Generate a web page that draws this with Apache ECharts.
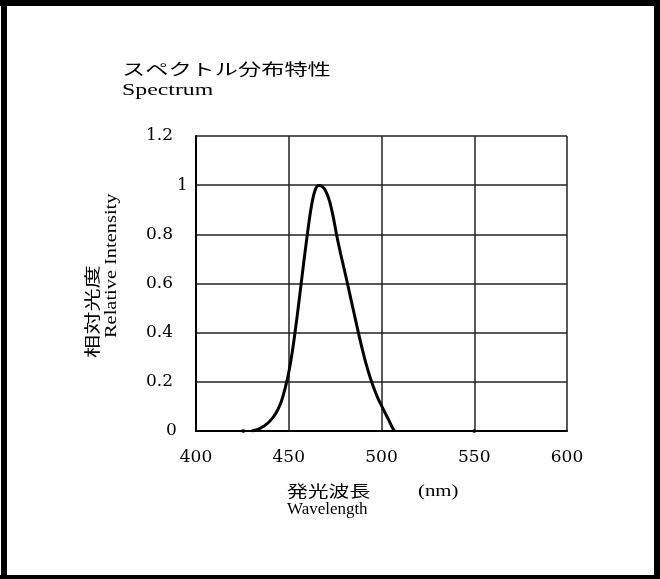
<!DOCTYPE html>
<html>
<head>
<meta charset="utf-8">
<script src="https://cdn.jsdelivr.net/npm/echarts@6/dist/echarts.min.js"></script>
<style>
html,body{margin:0;padding:0;background:#fff;}
#chart{width:660px;height:579px;}
</style>
</head>
<body>
<div id="chart"></div>
<script>
// ---- data ----
const wavelengths = [430, 432, 434, 436, 438, 440, 442, 444, 446, 448, 450, 452, 454, 456, 458, 460, 462, 464, 466, 468, 470, 472, 474, 476, 478, 480, 482, 484, 486, 488, 490, 492, 494, 496, 498, 500, 502, 504, 506, 507];
const intensities = [0, 0.003, 0.009, 0.017, 0.028, 0.042, 0.06, 0.085, 0.12, 0.172, 0.238, 0.326, 0.436, 0.557, 0.681, 0.799, 0.905, 0.975, 0.999, 0.995, 0.975, 0.935, 0.87, 0.79, 0.72, 0.655, 0.588, 0.52, 0.452, 0.385, 0.322, 0.265, 0.215, 0.172, 0.135, 0.103, 0.073, 0.043, 0.012, 0];
const dotWavelengths = [425.5, 550];
const dotValues = [0, 0];
const yTickLabels = ['0', '0.2', '0.4', '0.6', '0.8', '1', '1.2'];
const xTickLabels = ['400', '450', '500', '550', '600'];
const titleJa = 'スペクトル分布特性';
const titleEn = 'Spectrum';
const yNameJa = '相対光度';
const yNameEn = 'Relative Intensity';
const xNameJa = '発光波長';
const xUnit = '(nm)';
const xNameEn = 'Wavelength';

const chart = echarts.init(document.getElementById('chart'));
const serif = '"Liberation Serif", "Times New Roman", serif';
const labelFont = '"DejaVu Serif", serif';
const cjk = '"Noto Sans CJK JP", sans-serif';

const yIdx = {};
yTickLabels.forEach((t, i) => { yIdx[(i * 0.2).toFixed(1)] = t; });

const option = {
  backgroundColor: '#fff',
  animation: false,
  grid: { left: 196, top: 136, width: 371, height: 295, containLabel: false },
  xAxis: {
    type: 'value', min: 400, max: 600, interval: 50,
    axisLine: { show: true, lineStyle: { color: '#000', width: 2 } },
    axisTick: { show: false },
    splitLine: { show: true, lineStyle: { color: '#222', width: 1.5 } },
    axisLabel: {
      color: '#000', fontFamily: labelFont, fontSize: 17, margin: 18,
      formatter: v => { const i = Math.round((v - 400) / 50); return xTickLabels[i] || ''; }
    }
  },
  yAxis: {
    type: 'value', min: 0, max: 1.2, interval: 0.2,
    axisLine: { show: true, lineStyle: { color: '#000', width: 2 } },
    axisTick: { show: false },
    splitLine: { show: true, lineStyle: { color: '#222', width: 1.5 } },
    axisLabel: {
      color: '#000', fontFamily: labelFont, fontSize: 17, margin: 50, align: 'left',
      formatter: v => {
        const t = yIdx[v.toFixed(1)] || '';
        if (t === '1') return '{one|' + t + '}';
        if (t === '0') return '{zero|' + t + '}';
        return t;
      },
      rich: {
        one: { fontFamily: labelFont, fontSize: 17, color: '#000', padding: [0, 0, 0, 31] },
        zero: { fontFamily: labelFont, fontSize: 17, color: '#000', padding: [0, 0, 0, 20] }
      }
    }
  },
  series: [
    {
      name: 'spectrum', type: 'line', smooth: 0.3, symbol: 'none',
      lineStyle: { color: '#000', width: 3 },
      data: wavelengths.map((w, i) => [w, intensities[i]])
    },
    {
      name: 'dots', type: 'scatter', symbolSize: 4,
      itemStyle: { color: '#000' },
      data: dotWavelengths.map((w, i) => [w, dotValues[i]])
    }
  ],
  graphic: [
    { type: 'rect', shape: { x: 0, y: 0, width: 660, height: 6 }, style: { fill: '#000' } },
    { type: 'rect', shape: { x: 1, y: 0, width: 6, height: 579 }, style: { fill: '#000' } },
    { type: 'rect', shape: { x: 654, y: 0, width: 6, height: 579 }, style: { fill: '#000' } },
    { type: 'rect', shape: { x: 0, y: 575, width: 660, height: 4 }, style: { fill: '#000' } },
    { type: 'text', x: 122, y: 69, scaleX: 1.45, style: { text: titleJa, font: '16px ' + cjk, fill: '#000', textAlign: 'left', textVerticalAlign: 'middle' } },
    { type: 'text', x: 122, y: 91, scaleX: 1.4, style: { text: titleEn, font: '17px ' + serif, fill: '#000', textAlign: 'left', textVerticalAlign: 'middle' } },
    { type: 'text', x: 92, y: 358, rotation: Math.PI / 2, scaleX: 1.45, style: { text: yNameJa, font: '16px ' + cjk, fill: '#000', textAlign: 'left', textVerticalAlign: 'middle' } },
    { type: 'text', x: 112, y: 338, rotation: Math.PI / 2, scaleX: 1.2, style: { text: yNameEn, font: '17px ' + serif, fill: '#000', textAlign: 'left', textVerticalAlign: 'middle' } },
    { type: 'text', x: 287, y: 491, scaleX: 1.3, style: { text: xNameJa, font: '16px ' + cjk, fill: '#000', textAlign: 'left', textVerticalAlign: 'middle' } },
    { type: 'text', x: 418, y: 492, scaleX: 1.3, style: { text: xUnit, font: '16px ' + serif, fill: '#000', textAlign: 'left', textVerticalAlign: 'middle' } },
    { type: 'text', x: 287, y: 510, scaleX: 1.06, style: { text: xNameEn, font: '16px ' + serif, fill: '#000', textAlign: 'left', textVerticalAlign: 'middle' } }
  ]
};
chart.setOption(option);
</script>
</body>
</html>
